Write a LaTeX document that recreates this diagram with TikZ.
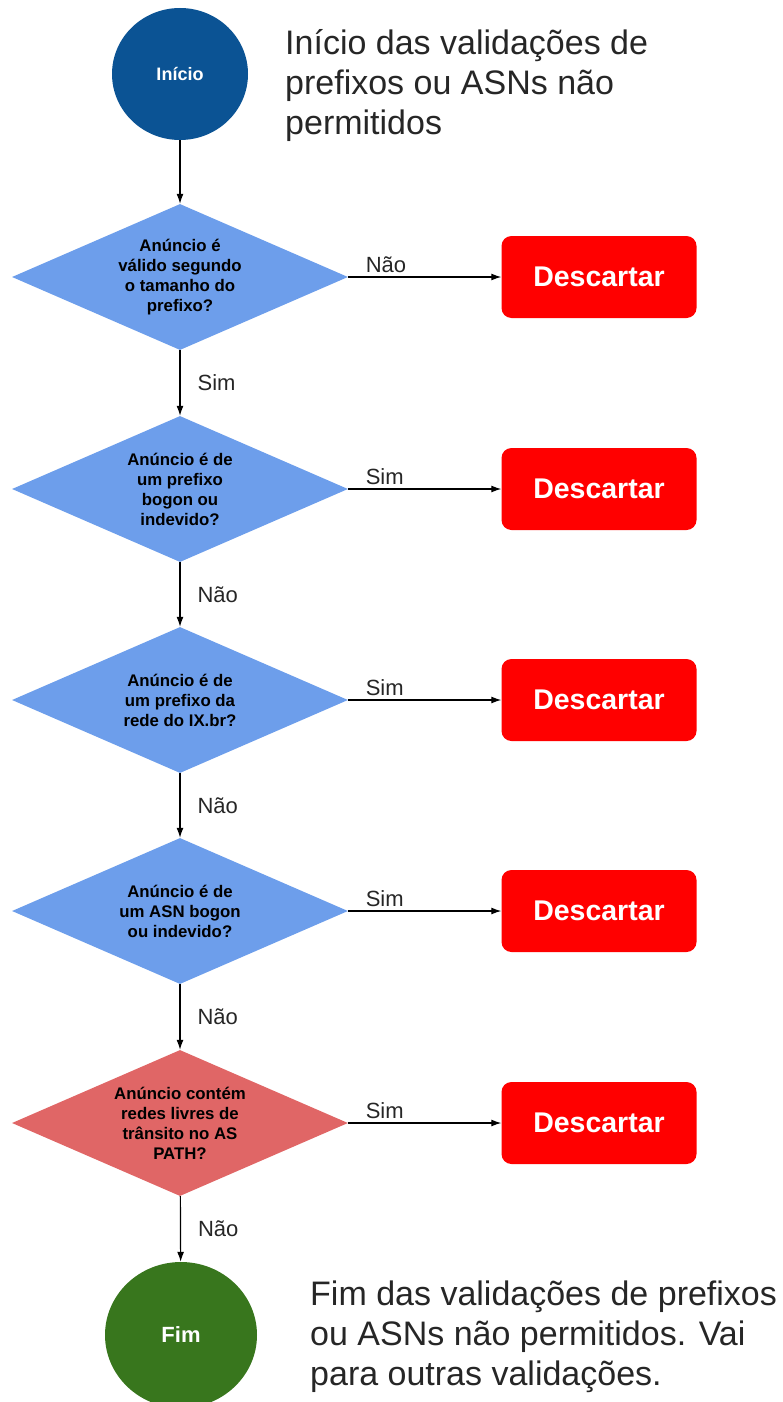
\documentclass[tikz,border=0pt]{standalone}
\usepackage{fontspec}
\setmainfont{Liberation Sans}
\usetikzlibrary{shapes.geometric,arrows.meta}
\definecolor{startblue}{HTML}{0B5394}
\definecolor{decblue}{HTML}{6D9EEB}
\definecolor{decred}{HTML}{E06666}
\definecolor{endgreen}{HTML}{38761D}
\definecolor{discard}{HTML}{FF0000}
\begin{document}
\begin{tikzpicture}[x=1pt,y=-1pt,
  decision/.style={diamond, aspect=2.3, minimum width=336pt, minimum height=146pt,
    inner sep=0pt, fill=decblue, align=center, text=black,
    font=\fontsize{16.8}{20}\selectfont\bfseries},
  discardbox/.style={rectangle, rounded corners=10pt, fill=discard,
    minimum width=195pt, minimum height=82pt, text=white,
    font=\fontsize{28.5}{32}\selectfont\bfseries},
  terminal/.style={ellipse, inner sep=0pt, text=white},
  flow/.style={draw=black, line width=1.2pt, -{Latex[length=10pt,width=7pt]}},
  lbl/.style={font=\fontsize{22}{26}\selectfont, inner sep=0pt, text=black!85},
  note/.style={font=\fontsize{34}{40}\selectfont, align=left, inner sep=0pt, anchor=west, text=black!85}
]
\useasboundingbox (0,0) rectangle (782,1402);

\node[terminal, fill=startblue, minimum width=136pt, minimum height=132pt,
  font=\fontsize{18}{22}\selectfont\bfseries] (start) at (180,74) {Início};
\node[note] (startnote) at (285,86) {Início das validações de\\prefixos ou ASNs não\\permitidos};

\node[decision] (d1) at (180,277) {Anúncio é\\válido segundo\\o tamanho do\\prefixo?};
\node[decision] (d2) at (180,489) {Anúncio é de\\um prefixo\\bogon ou\\indevido?};
\node[decision] (d3) at (180,700) {Anúncio é de\\um prefixo da\\rede do IX.br?};
\node[decision] (d4) at (180,911) {Anúncio é de\\um ASN bogon\\ou indevido?};
\node[decision, fill=decred] (d5) at (180,1123) {Anúncio contém\\redes livres de\\trânsito no AS\\PATH?};

\node[discardbox] (x1) at (599,277) {Descartar};
\node[discardbox] (x2) at (599,489) {Descartar};
\node[discardbox] (x3) at (599,700) {Descartar};
\node[discardbox] (x4) at (599,911) {Descartar};
\node[discardbox] (x5) at (599,1123) {Descartar};

\node[terminal, fill=endgreen, minimum width=152pt, minimum height=146pt,
  font=\fontsize{22}{26}\selectfont\bfseries] (end) at (181,1335) {Fim};
\node[note] (endnote) at (310,1337) {Fim das validações de prefixos\\ou ASNs não permitidos. Vai\\para outras validações.};

\draw[flow] (start) -- (d1);
\draw[flow] (d1) -- node[lbl, anchor=west, xshift=17pt] {Sim} (d2);
\draw[flow] (d2) -- node[lbl, anchor=west, xshift=17pt] {Não} (d3);
\draw[flow] (d3) -- node[lbl, anchor=west, xshift=17pt] {Não} (d4);
\draw[flow] (d4) -- node[lbl, anchor=west, xshift=17pt] {Não} (d5);
\draw[flow] (d5) -- node[lbl, anchor=west, xshift=17pt] {Não} (end);

\draw[flow] (d1.east) -- (x1.west) node[lbl, pos=0, anchor=west, xshift=17pt, yshift=12pt] {Não};
\draw[flow] (d2.east) -- (x2.west) node[lbl, pos=0, anchor=west, xshift=17pt, yshift=12pt] {Sim};
\draw[flow] (d3.east) -- (x3.west) node[lbl, pos=0, anchor=west, xshift=17pt, yshift=12pt] {Sim};
\draw[flow] (d4.east) -- (x4.west) node[lbl, pos=0, anchor=west, xshift=17pt, yshift=12pt] {Sim};
\draw[flow] (d5.east) -- (x5.west) node[lbl, pos=0, anchor=west, xshift=17pt, yshift=12pt] {Sim};
\end{tikzpicture}
\end{document}
